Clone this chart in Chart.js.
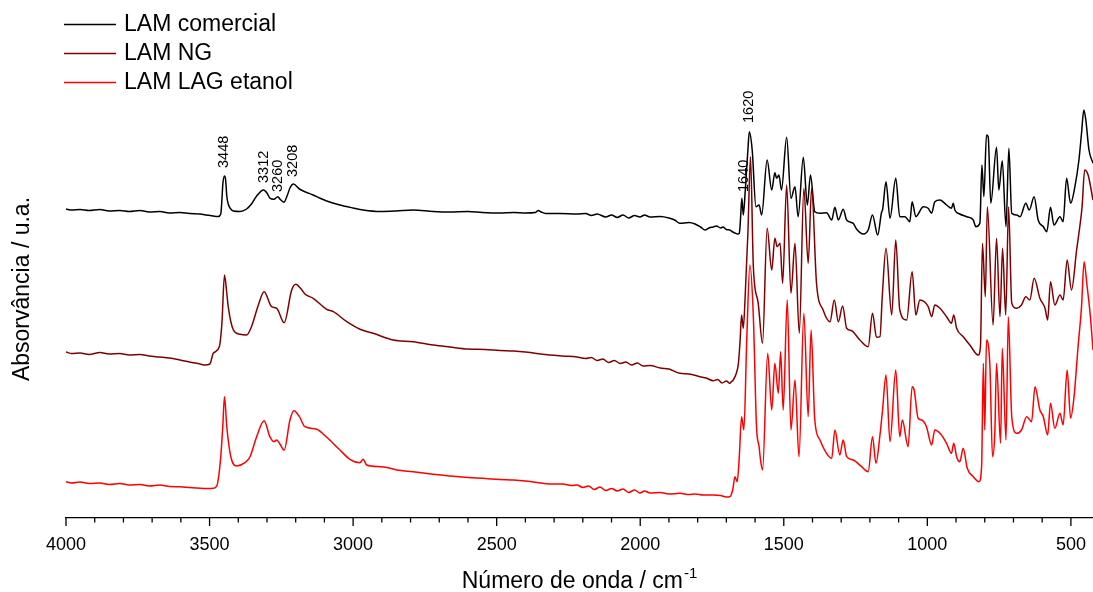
<!DOCTYPE html>
<html><head><meta charset="utf-8">
<script src="https://cdn.jsdelivr.net/npm/chart.js@4.4.1/dist/chart.umd.min.js"></script>
<style>html,body{margin:0;padding:0;background:#fff;overflow:hidden}canvas{display:block}</style>
</head><body>
<canvas id="c" width="1093" height="592"></canvas>
<script>
// ---- data (wavenumber / cm-1, absorbance in arbitrary units) ----
const seriesNames = ['LAM comercial', 'LAM NG', 'LAM LAG etanol'];
const seriesColors = ['#000000', '#800000', '#ff0000'];

const wnCom = [4000,3980,3951,3920,3882,3850,3812,3780,3742,3710,3673,3640,3603,3570,3533,3510,3487,3470,3461,3457,3454,3448,3444,3440,3435,3426,3417,3394,3371,3354,3336,3312,3300,3290,3276,3262,3255,3241,3230,3220,3208,3187,3168,3139,3115,3092,3046,3000,2965,2906,2850,2791,2721,2663,2600,2550,2489,2440,2400,2365,2355,2345,2330,2280,2220,2190,2170,2150,2120,2100,2080,2060,2040,2020,2001,1985,1966,1930,1900,1880,1862,1830,1809,1790,1774,1760,1746,1734,1720,1712,1700,1688,1678,1670,1660,1655,1652,1650,1646,1641,1634,1625,1620,1610,1597,1586,1577,1558,1542,1531,1525,1517,1508,1490,1475,1461,1450,1432,1418,1407,1392,1374,1351,1333,1322,1310,1293,1281,1258,1246,1223,1206,1191,1173,1159,1156,1144,1130,1110,1096,1078,1061,1053,1040,1014,997,985,974,956,933,916,910,904,887,863,840,831,817,810,803,794,788,779,759,751,739,726,716,706,689,677,657,645,628,614,596,584,571,559,538,527,515,501,486,472,463,455,448,437,423];
const absCom = [309,308,308.5,307.5,308.5,307,307.5,306.5,307.5,306,306.5,305,305.5,304.5,304,303,302,301.5,304,318,333,342,338,322,314,309,307,306.5,309,314,322,328,325,320,318.7,321.3,319,315.7,322,330,334,329,326.3,323,319.7,317,313,310,308,306.5,307,308,306.5,306,306.5,305.5,305,305.5,305,305.5,307.5,306,304.5,304.5,304,304.5,302.5,304,301,303,300.5,303,300,302.5,301,303,301,301.5,300,298,294.7,295.5,294,291,288,290,291,292,290,291,288.5,288,286,285,284,284.7,293,303,319.7,303,328,368,386.3,368,311.3,313,303,358,328,345.3,339.7,343,328,380.7,319.7,331.3,301.3,360.7,313,343,306.3,304.7,305.3,298,310.7,298,308.7,298,294.7,288.7,284,288,303,283,306.3,308,336.3,299.7,339.7,301.3,301.3,296.3,316.3,301.3,311.3,309.7,304.7,316.3,318,313,309.7,314.7,308,304,301.3,298,291.3,294.7,353,321.3,383,381.3,314.7,370.7,328,357.3,291.3,369.7,304.7,303,301.3,314.7,308,321.3,298,291.3,286.3,310.7,293,301.3,296.3,339.7,314.7,331.3,358,384.7,408,398,368,354.7];

const wnNG = [4000,3980,3951,3920,3882,3850,3812,3780,3742,3710,3673,3640,3603,3570,3533,3516,3499,3487,3466,3457,3448,3440,3435,3417,3394,3371,3354,3330,3310,3284,3266,3240,3214,3199,3183,3168,3139,3092,3069,3022,2976,2930,2860,2791,2721,2663,2600,2540,2489,2440,2400,2360,2315,2270,2220,2190,2170,2150,2130,2110,2090,2070,2050,2030,2010,1990,1966,1930,1900,1862,1830,1792,1770,1746,1730,1715,1700,1688,1682,1676,1665,1658,1652,1647,1641,1634,1625,1616,1606,1589,1574,1558,1542,1531,1523,1513,1504,1490,1475,1461,1446,1430,1415,1403,1386,1363,1339,1324,1310,1295,1281,1264,1235,1206,1191,1177,1165,1157,1144,1124,1110,1096,1072,1053,1040,1026,997,985,974,956,933,916,908,898,875,852,823,815,808,798,791,771,759,747,738,727,717,706,689,672,657,643,628,608,590,581,571,556,538,527,513,498,480,469,461,452,440,423];
const absNG = [166,164.5,165,163.5,165.5,164,164.5,163,163.5,162,161,160,158,156,154,153,154,164.7,171.3,194.7,243,225,211.3,188,183.7,183,191.3,213,226.3,211.3,209.7,195.3,228,233.7,229.7,224,219.7,208.7,206.3,196.3,188.7,184.7,178,176.3,173,171,169,168.5,167.5,167,166,164.5,163,162,161,159.5,160.5,157.5,159,155.5,157.5,154.5,156,153,155,152,152.5,150,149,144.7,144,141.3,140,137.3,138.5,135,137,134.7,136.5,138,145,154.7,178,203,189.7,224.7,284.7,361.3,251.3,214.7,174.7,289.7,248,279.7,271.3,274.7,234.7,333,224.7,274.7,184.7,329.7,254.7,329.7,234.7,208,196.3,218,196.3,212,189.7,187.3,178,171.3,204.7,180.7,181.3,221.3,269.7,203,278,208,198,246.3,203,218,211.3,201.3,213,209.7,201.3,194.7,203,189.7,181.3,173,163,171.3,274.7,221.3,311.3,193,279.7,201.3,269.7,203,311,214.7,209.7,213,221.3,218,239.7,219.7,209.7,198,236.3,213,223,218,258,228,268,291.3,311.3,348,343,318];

const wnLAG = [4000,3980,3951,3920,3882,3850,3812,3780,3742,3710,3673,3640,3603,3570,3533,3510,3487,3475,3470,3461,3454,3448,3440,3426,3406,3377,3359,3336,3310,3290,3276,3266,3255,3240,3220,3206,3187,3168,3127,3092,3046,3011,2976,2965,2953,2906,2878,2848,2791,2721,2663,2600,2540,2489,2440,2400,2360,2315,2270,2240,2220,2200,2180,2160,2140,2120,2100,2080,2060,2040,2020,2001,1985,1966,1930,1900,1862,1830,1809,1780,1746,1720,1700,1688,1678,1670,1662,1655,1647,1639,1629,1618,1606,1595,1586,1581,1574,1556,1542,1531,1519,1511,1502,1488,1475,1461,1447,1430,1415,1405,1392,1374,1351,1333,1322,1305,1293,1281,1258,1229,1206,1191,1179,1165,1156,1144,1130,1110,1096,1087,1067,1053,1046,1032,1020,1003,985,974,956,933,916,908,898,887,875,861,840,820,811,805,800,794,782,773,765,759,745,739,726,718,706,689,672,654,637,625,608,596,581,571,556,538,527,513,501,489,475,463,454,444,432,423];
const absLAG = [36.3,35,36,34.5,35,33.5,34.5,33,33.5,32,33,31.5,31.3,30.5,29.7,29.5,29.7,32,38,61.3,91.3,121.3,91.3,61.3,52,55.3,61.3,81.3,97.3,81.3,76.3,78,74,68,98,107.3,101.3,91.3,88.7,80.7,68,58.7,55.3,58.7,53,51.3,50.3,48,46.3,43.7,42,40.5,39.5,38.5,38,37,35.5,34,34,32.5,33,30.5,32,28.5,31,27.5,29.5,27,29,25.5,28,25,27,25,25.5,24,24.7,23.5,24,23,23,22.5,21,21.3,28,41.3,36.3,61.3,101.3,88,178,253,201.3,91.3,71.3,58,48,164.7,108,154.7,124.7,166.3,108,218,88,138,61.3,204.7,101.3,188,98,78,64.7,59.7,88,63,78,61.3,58,51.3,46.3,81.3,54.7,83,108,143,76.3,148,81.3,98,71.3,131.3,128,99.7,98,91.3,73,88,84.7,74.7,64.7,74.7,61.3,56.3,69.7,49.7,41.3,36.3,51.3,154.7,88,178,151.3,61.3,84.7,154.7,74.7,169.7,78,201.3,101.3,84.7,88,101.3,96.3,131.3,108,101.3,83,114.7,89.7,104.7,93,148,99.7,121.3,171.3,211.3,256.3,233,201.3,168];

// peak annotations
const peakLabels = ['3448', '3312', '3260', '3208', '1640', '1620'];
const peakWn = [3448, 3312, 3260, 3208, 1640, 1620];
const peakLabelAbs = [350, 335, 326, 341, 326, 395];

// axis
const xMin = 423, xMax = 4000, yMin = 0, yMax = 518;
const xTickLabels = [4000, 3500, 3000, 2500, 2000, 1500, 1000, 500];
const xMinorStep = 100;
const xTitle = 'Número de onda / cm';
const xTitleSup = '-1';
const yTitle = 'Absorvância / u.a.';

// ---- chart ----
const fam = "'Liberation Sans', Arial, Helvetica, sans-serif";
Chart.defaults.font.family = fam;
Chart.defaults.color = '#000';

function pts(wn, ab) { return wn.map((w, i) => ({ x: w, y: ab[i] })); }

const decor = {
  id: 'decor',
  afterDraw(chart) {
    const { ctx, chartArea: ca, scales: { x, y } } = chart;
    ctx.save();
    // tick marks: major (labelled) and minor
    ctx.strokeStyle = '#000';
    ctx.lineWidth = 1.3;
    for (let v = Math.ceil(xMin / xMinorStep) * xMinorStep; v <= xMax; v += xMinorStep) {
      const px = x.getPixelForValue(v);
      const len = xTickLabels.includes(v) ? 8 : 4.5;
      ctx.beginPath(); ctx.moveTo(px, ca.bottom); ctx.lineTo(px, ca.bottom + len); ctx.stroke();
    }
    // tick labels
    ctx.fillStyle = '#000';
    ctx.font = '18px ' + fam;
    ctx.textAlign = 'center'; ctx.textBaseline = 'alphabetic';
    xTickLabels.forEach(v => ctx.fillText(String(v), x.getPixelForValue(v), 550));
    // peak labels
    ctx.font = '14.5px ' + fam;
    ctx.textAlign = 'left';
    ctx.textBaseline = 'middle';
    peakWn.forEach((w, i) => {
      const px = x.getPixelForValue(w), py = y.getPixelForValue(peakLabelAbs[i]);
      ctx.save(); ctx.translate(px, py); ctx.rotate(-Math.PI / 2);
      ctx.fillText(peakLabels[i], 0, 0); ctx.restore();
    });
    // legend
    chart.data.datasets.forEach((ds, i) => {
      const yy = 24.5 + i * 29;
      ctx.strokeStyle = ds.borderColor; ctx.lineWidth = 1.6;
      ctx.beginPath(); ctx.moveTo(64, yy); ctx.lineTo(116, yy); ctx.stroke();
      ctx.fillStyle = '#000'; ctx.font = '23px ' + fam;
      ctx.textAlign = 'left'; ctx.textBaseline = 'middle';
      ctx.fillText(ds.label, 124, yy);
    });
    // y title
    ctx.save();
    ctx.translate(23, 289); ctx.rotate(-Math.PI / 2);
    ctx.font = '23px ' + fam; ctx.textAlign = 'center'; ctx.textBaseline = 'middle';
    ctx.fillText(yTitle, 0, 0);
    ctx.restore();
    // x title with superscript
    ctx.font = '23px ' + fam;
    const w1 = ctx.measureText(xTitle).width;
    ctx.font = '15px ' + fam;
    const w2 = ctx.measureText(xTitleSup).width;
    const cx = (ca.left + ca.right) / 2;
    const sx = cx - (w1 + w2 + 1) / 2;
    ctx.textAlign = 'left'; ctx.textBaseline = 'alphabetic';
    ctx.font = '23px ' + fam;
    ctx.fillText(xTitle, sx, 588);
    ctx.font = '15px ' + fam;
    ctx.fillText(xTitleSup, sx + w1 + 1, 578);
    ctx.restore();
  }
};

new Chart(document.getElementById('c'), {
  type: 'line',
  data: {
    datasets: [
      { label: seriesNames[0], data: pts(wnCom, absCom), borderColor: seriesColors[0], order: 2 },
      { label: seriesNames[1], data: pts(wnNG, absNG), borderColor: seriesColors[1], order: 1 },
      { label: seriesNames[2], data: pts(wnLAG, absLAG), borderColor: seriesColors[2], order: 0 }
    ]
  },
  options: {
    responsive: false,
    animation: false,
    devicePixelRatio: 1,
    layout: { padding: { left: 66, right: 0, top: 0, bottom: 0 } },
    elements: {
      point: { radius: 0, hoverRadius: 0 },
      line: { borderWidth: 1.5, fill: false, cubicInterpolationMode: 'monotone', borderJoinStyle: 'round' }
    },
    plugins: { legend: { display: false }, tooltip: { enabled: false } },
    scales: {
      x: {
        type: 'linear', reverse: true, min: xMin, max: xMax, position: 'bottom',
        afterFit(s) { s.height = 74; },
        grid: { display: true, drawOnChartArea: false, drawTicks: false, color: 'rgba(0,0,0,0)' },
        border: { display: true, color: '#000', width: 1.3 },
        ticks: { display: false }
      },
      y: { type: 'linear', display: false, min: yMin, max: yMax }
    }
  },
  plugins: [decor]
});
</script>
</body></html>
